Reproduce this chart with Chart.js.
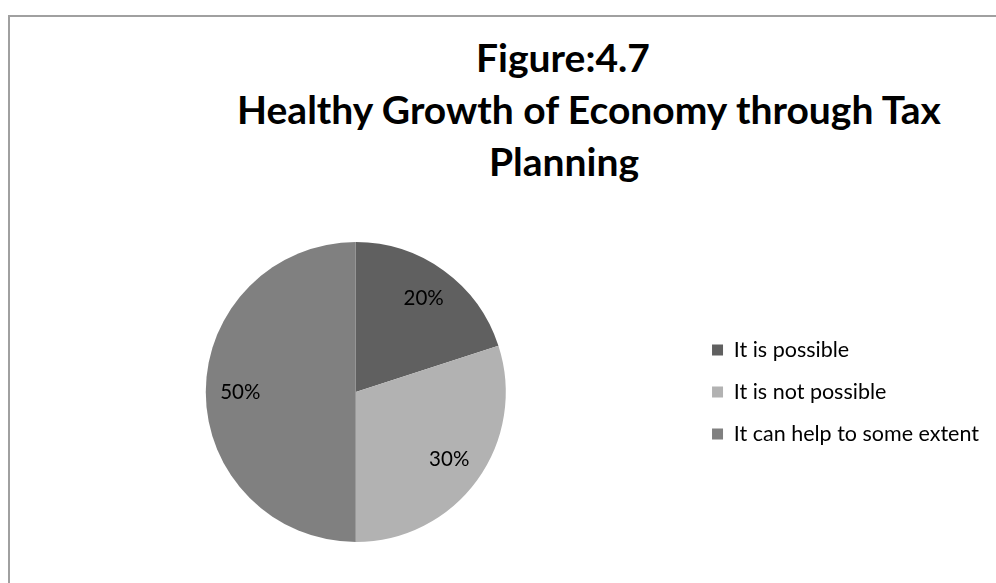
<!DOCTYPE html>
<html>
<head>
  <meta charset="UTF-8">
  <title>Healthy Growth of Economy through Tax Planning</title>
  <script src="https://cdn.jsdelivr.net/npm/chart.js"></script>
  <style>
    body {
      margin: 0;
      width: 996px;
      height: 583px;
      overflow: hidden;
      background: #fff;
      font-family: Lato, sans-serif;
    }

    #frame {
      position: absolute;
      left: 8px;
      top: 15px;
      width: 1000px;
      height: 600px;
      border-left: 2px solid #a0a0a0;
      border-top: 2px solid #a0a0a0;
    }

    .title-line {
      position: absolute;
      width: 800px;
      text-align: center;
      font-weight: bold;
      font-size: 39px;
      line-height: 51px;
      color: #000;
      white-space: nowrap;
    }

    #chart {
      position: absolute;
      left: 0;
      top: 0;
    }
  </style>
</head>
<body>
  <div id="frame"></div>
  <div class="title-line" style="left:163px; top:32px">Figure:4.7</div>
  <div class="title-line" style="left:189px; top:84px">Healthy Growth of Economy through Tax</div>
  <div class="title-line" style="left:164px; top:136px">Planning</div>
  <canvas id="chart" width="996" height="583"></canvas>

  <script>
    const categories = ["It is possible", "It is not possible", "It can help to some extent"];
    const shares = [20, 30, 50];
    const sliceColors = ["#606060", "#b2b2b2", "#808080"];

    // percent labels inside each slice
    const sliceLabels = {
      id: "sliceLabels",
      afterDatasetsDraw(chart) {
        const ctx = chart.ctx;
        const meta = chart.getDatasetMeta(0);
        ctx.save();
        ctx.font = "20.5px Lato, sans-serif";
        ctx.fillStyle = "#000";
        ctx.textAlign = "center";
        ctx.textBaseline = "middle";
        meta.data.forEach((arc, i) => {
          const p = arc.getProps(["x", "y", "startAngle", "endAngle", "outerRadius"], true);
          const mid = (p.startAngle + p.endAngle) / 2;
          const r = p.outerRadius * 0.77;
          ctx.fillText(shares[i] + "%", p.x + Math.cos(mid) * r, p.y + Math.sin(mid) * r);
        });
        ctx.restore();
      }
    };

    new Chart(document.getElementById("chart"), {
      type: "pie",
      data: {
        labels: categories,
        datasets: [{
          data: shares,
          backgroundColor: sliceColors,
          borderWidth: 0
        }]
      },
      options: {
        responsive: false,
        animation: false,
        layout: {
          padding: { top: 242, bottom: 41, left: 20, right: 7 }
        },
        plugins: {
          title: { display: false },
          tooltip: { enabled: false },
          legend: {
            position: "right",
            labels: {
              boxWidth: 11,
              boxHeight: 11,
              padding: 20.5,
              color: "#000",
              font: { family: "Lato, sans-serif", size: 21.5 }
            }
          }
        }
      },
      plugins: [sliceLabels]
    });
  </script>
</body>
</html>
